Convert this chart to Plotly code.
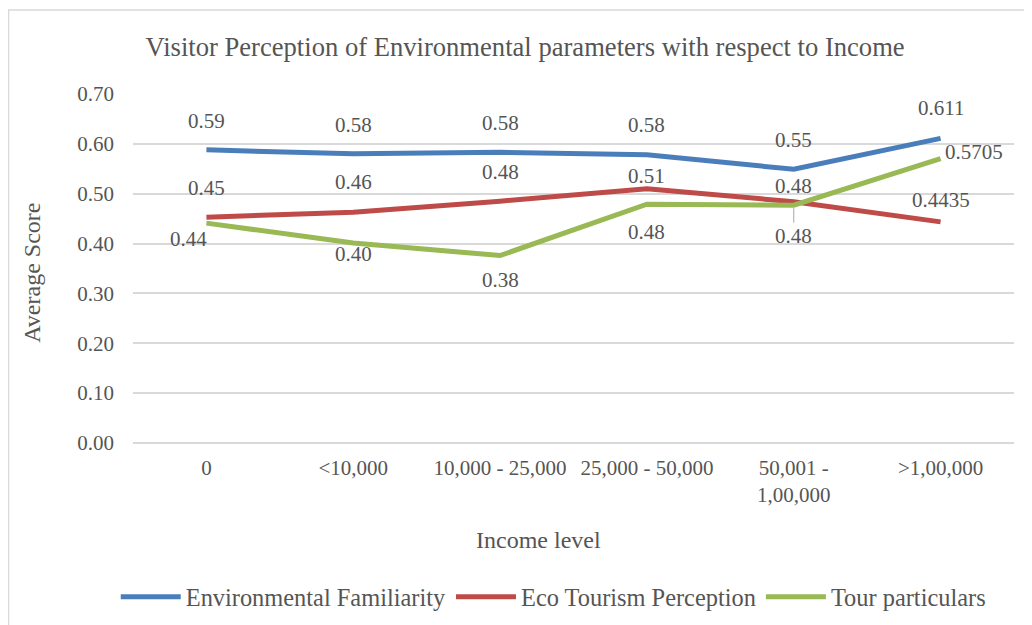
import plotly.graph_objects as go

categories = ["0", "<10,000", "10,000 - 25,000", "25,000 - 50,000", "50,001 -<br>1,00,000", ">1,00,000"]
env_familiarity = [0.588, 0.580, 0.583, 0.578, 0.549, 0.611]
eco_perception = [0.453, 0.463, 0.485, 0.510, 0.484, 0.4435]
tour_particulars = [0.441, 0.401, 0.376, 0.479, 0.477, 0.5705]

series_names = ["Environmental Familiarity", "Eco Tourism Perception", "Tour particulars"]
colors = ["#4A7EBB", "#BE4B48", "#98B954"]

# label offsets (pixels) per point: (xshift, yshift)
label_shifts = [
    [(0, 29), (0, 29), (0, 29), (0, 30), (0, 29), (0, 30)],
    [(0, 29), (0, 30), (0, 29), (0, 13), (0, 16), (0, 22)],
    [(-18, -16), (0, -11), (0, -24), (0, -28), (0, -31), (33, 7)],
]

def fmt(vals):
    return [f"{v:.2f}" for v in vals[:-1]] + [f"{vals[-1]:g}"]

FONT = "Liberation Serif, Times New Roman, serif"
TXT = "#555555"

fig = go.Figure()
all_series = [env_familiarity, eco_perception, tour_particulars]
for name, vals, col in zip(series_names, all_series, colors):
    fig.add_trace(go.Scatter(
        x=categories, y=vals, mode="lines", name=name,
        line=dict(color=col, width=5),
    ))

annotations = []
for si, vals in enumerate(all_series):
    texts = fmt(vals)
    for i, (c, v, t) in enumerate(zip(categories, vals, texts)):
        dx, dy = label_shifts[si][i]
        if si == 2 and i == 4:
            annotations.append(dict(
                x=c, y=v, text=t, showarrow=True, arrowhead=0, arrowwidth=1,
                arrowcolor="#A6A6A6", ax=0, ay=31, standoff=3,
                font=dict(family=FONT, size=21, color=TXT),
            ))
        else:
            annotations.append(dict(
                x=c, y=v, text=t, showarrow=False, xshift=dx, yshift=dy,
                font=dict(family=FONT, size=21, color=TXT),
            ))

annotations.append(dict(
    text="Income level", xref="paper", yref="paper", x=0.46, y=-0.278,
    xanchor="center", yanchor="middle",
    showarrow=False, font=dict(family=FONT, size=24, color=TXT),
))
annotations.append(dict(
    text="Average Score", xref="paper", yref="paper", x=-0.115, y=0.487,
    xanchor="center", yanchor="middle",
    textangle=-90, showarrow=False, font=dict(family=FONT, size=24, color=TXT),
))

fig.update_layout(
    width=1024, height=617,
    margin=dict(l=125, r=18, t=86, b=182, autoexpand=False),
    paper_bgcolor="white", plot_bgcolor="white",
    title=dict(
        text="Visitor Perception of Environmental parameters with respect to Income",
        x=0.505, xanchor="center", y=0.938, yanchor="middle",
        font=dict(family=FONT, size=26.6, color=TXT),
    ),
    font=dict(family=FONT, size=21, color=TXT),
    showlegend=True,
    legend=dict(
        orientation="h", x=0.477, xanchor="center", y=-0.441, yanchor="middle",
        font=dict(family=FONT, size=24.4, color=TXT),
        tracegroupgap=0, itemwidth=60,
    ),
    annotations=annotations,
    shapes=[dict(
        type="rect", xref="paper", yref="paper",
        x0=-0.1413, x1=1.1, y0=-0.6, y1=1.241,
        line=dict(color="#D9D9D9", width=1.5), fillcolor="rgba(0,0,0,0)",
    )],
)
fig.update_xaxes(
    range=[-0.5, 5.5],
    showgrid=False, showline=False, zeroline=False,
    tickfont=dict(family=FONT, size=21, color=TXT),
    ticklabelstandoff=10,
)
fig.update_yaxes(
    range=[0, 0.7], dtick=0.1, tickformat=".2f",
    showgrid=True, gridcolor="#D9D9D9", gridwidth=1.5,
    zeroline=True, zerolinecolor="#D9D9D9", zerolinewidth=1.5,
    showline=False,
    tickfont=dict(family=FONT, size=21, color=TXT),
    ticklabelstandoff=18,
)

fig.write_html("out.html")
